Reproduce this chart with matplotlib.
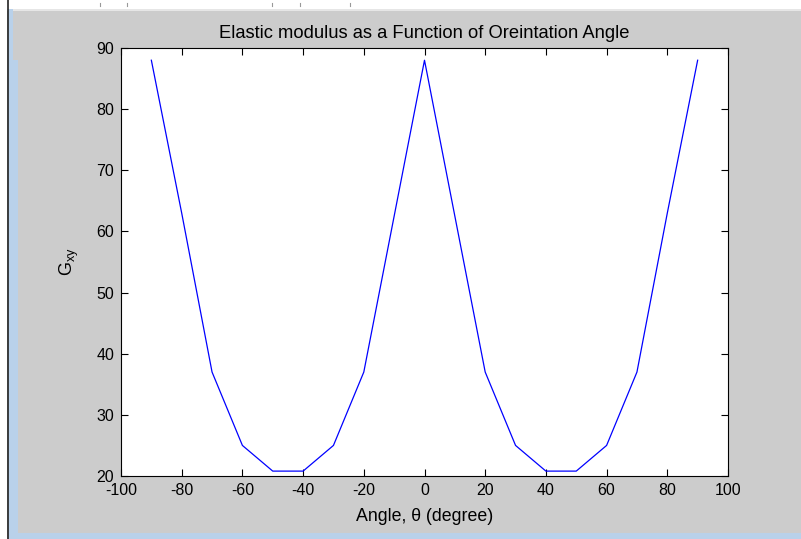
import matplotlib
matplotlib.use('Agg')
import matplotlib.pyplot as plt
from matplotlib.patches import Rectangle
from matplotlib.lines import Line2D

# shear modulus, every 10 degrees
angle = [-90, -80, -70, -60, -50, -40, -30, -20, -10, 0,
         10, 20, 30, 40, 50, 60, 70, 80, 90]
gxy = [88, 63, 37, 25, 20.8, 20.8, 25, 37, 62.5, 88,
       62.5, 37, 25, 20.8, 20.8, 25, 37, 63, 88]

xticks = [-100, -80, -60, -40, -20, 0, 20, 40, 60, 80, 100]
yticks = [20, 30, 40, 50, 60, 70, 80, 90]

plt.rcParams['font.family'] = ['Liberation Sans', 'DejaVu Sans']
plt.rcParams['mathtext.fontset'] = 'custom'
plt.rcParams['mathtext.rm'] = 'Liberation Sans'
plt.rcParams['mathtext.it'] = 'Liberation Sans'
plt.rcParams['axes.unicode_minus'] = False

W, H = 801, 539
fig = plt.figure(figsize=(W / 100, H / 100), dpi=100, facecolor='#cccccc')

# window chrome around the figure (screenshot edges)
fig.patches.append(Rectangle((0, 1 - 9 / H), 1, 9 / H, transform=fig.transFigure,
                             facecolor='white', edgecolor='none', zorder=0))
fig.patches.append(Rectangle((0, 1 - 11 / H), 1, 2 / H, transform=fig.transFigure,
                             facecolor='#e6e6e6', edgecolor='none', zorder=0))
fig.patches.append(Rectangle((0, 0), 7 / W, 1, transform=fig.transFigure,
                             facecolor='white', edgecolor='none', zorder=0))
fig.patches.append(Rectangle((8 / W, 0), 10 / W, 1 - 60 / H, transform=fig.transFigure,
                             facecolor='#b9d1ea', edgecolor='none', zorder=0))
fig.patches.append(Rectangle((8 / W, 0), 5 / W, 1 - 9 / H, transform=fig.transFigure,
                             facecolor='#b9d1ea', edgecolor='none', zorder=0))
fig.patches.append(Rectangle((8 / W, 0), 1 - 8 / W, 6 / H, transform=fig.transFigure,
                             facecolor='#b9d1ea', edgecolor='none', zorder=0))
fig.lines.append(Line2D([7.5 / W, 7.5 / W], [0, 1], transform=fig.transFigure,
                        color='#222222', lw=1.2))
for px in [100, 127, 272, 300, 350]:
    fig.lines.append(Line2D([px / W, px / W], [1 - 6 / H, 1 - 3 / H], transform=fig.transFigure,
                            color='#999999', lw=0.8))

ax = fig.add_axes([121 / W, 1 - 476 / H, 607 / W, 428 / H])
ax.set_facecolor('white')
ax.plot(angle, gxy, color='#0000ff', lw=0.9)

ax.set_xlim(-100, 100)
ax.set_ylim(20, 90)
ax.set_xticks(xticks)
ax.set_yticks(yticks)
ax.tick_params(direction='in', length=5, width=0.8, top=True, right=True,
               labelsize=11.5, pad=5, colors='black')
for s in ax.spines.values():
    s.set_linewidth(0.8)

ax.set_title('Elastic modulus as a Function of Oreintation Angle', fontsize=13.2, pad=7)
ax.set_xlabel('Angle, θ (degree)', fontsize=12.8, labelpad=7)
ax.set_ylabel(r'G$_{\rm xy}$', fontsize=13, labelpad=11)

fig.savefig('out.png', dpi=100, facecolor=fig.get_facecolor())
